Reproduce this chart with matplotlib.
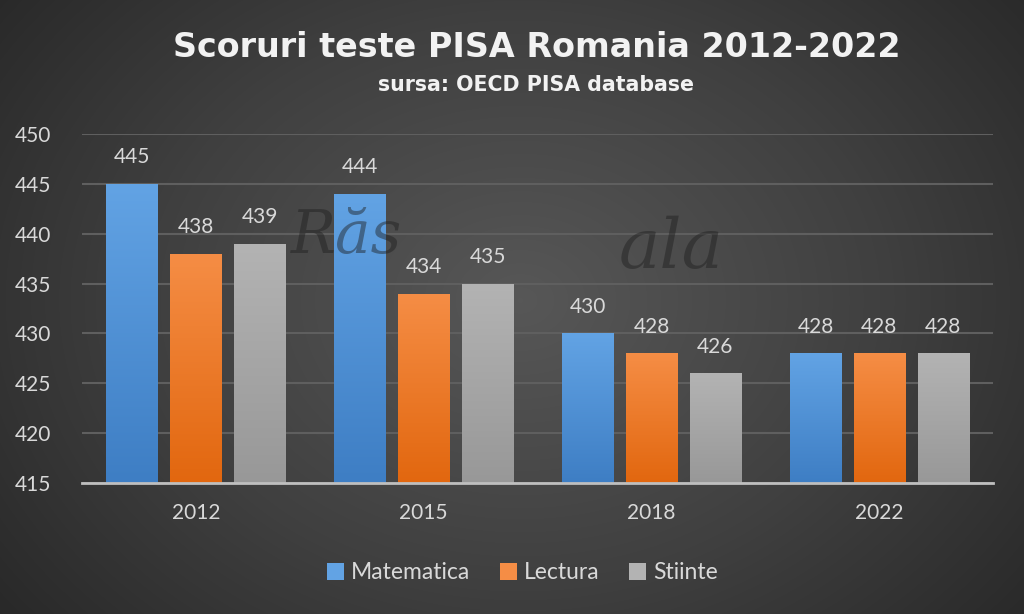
import numpy as np
import matplotlib
matplotlib.use('Agg')
import matplotlib.pyplot as plt
from matplotlib.colors import LinearSegmentedColormap
from matplotlib.patches import Patch

years = ['2012', '2015', '2018', '2022']
matematica = [445, 444, 430, 428]
lectura = [438, 434, 428, 428]
stiinte = [439, 435, 426, 428]
series_names = ['Matematica', 'Lectura', 'Stiinte']
yticks = [415, 420, 425, 430, 435, 440, 445, 450]

plt.rcParams['font.family'] = ['Lato', 'DejaVu Sans']

fig = plt.figure(figsize=(10.24, 6.14), dpi=100)

# radial background
bg = fig.add_axes([0, 0, 1, 1], zorder=-10)
yy, xx = np.mgrid[0:614, 0:1024]
r = np.sqrt(((xx - 520) / 720.0) ** 2 + ((yy - 300) / 560.0) ** 2)
r = np.clip(r, 0, 1)
bg_cmap = LinearSegmentedColormap.from_list('bg', ['#575757', '#404040', '#242424'])
bg.imshow(r, cmap=bg_cmap, aspect='auto', extent=[0, 1, 0, 1], vmin=0, vmax=1)
bg.axis('off')

ax = fig.add_axes([0.080, 0.213, 0.890, 0.569])
ax.set_facecolor('none')

x = np.arange(len(years))
width = 0.225
step = 0.28
series = [matematica, lectura, stiinte]
top_colors = ['#62a3e4', '#f58d45', '#b3b3b3']
bot_colors = ['#3e7ec4', '#e2670f', '#989898']

ymin, ymax = 415, 450
for i, (vals, tc, bc) in enumerate(zip(series, top_colors, bot_colors)):
    bars = ax.bar(x + (i - 1) * step, np.array(vals) - ymin, width, bottom=ymin,
                  color=tc, zorder=3, linewidth=0)
    cmap = LinearSegmentedColormap.from_list('g%d' % i, [bc, tc])
    for b, v in zip(bars, vals):
        x0, y0 = b.get_x(), b.get_y()
        grad = np.linspace(0, 1, 100).reshape(-1, 1)
        im = ax.imshow(grad, extent=[x0, x0 + b.get_width(), y0, y0 + b.get_height()],
                       origin='lower', aspect='auto', cmap=cmap, zorder=3.5)
        im.set_clip_path(b)
        ax.annotate(str(v), (b.get_x() + b.get_width() / 2, v), xytext=(0, 12),
                    textcoords='offset points', ha='center', va='bottom',
                    fontsize=15, color='#d9d9d9', zorder=5)

ax.set_xlim(-0.5, 3.5)
ax.set_ylim(ymin, ymax)
ax.set_yticks(yticks)
ax.set_xticks(x)
ax.set_xticklabels(years)
ax.tick_params(axis='both', length=0, labelsize=15, labelcolor='#d9d9d9')
ax.tick_params(axis='x', pad=14)
ax.tick_params(axis='y', pad=22)
ax.yaxis.grid(True, color='#5f5f5f', linewidth=1.5, zorder=0)
ax.set_axisbelow(True)
for s in ['top', 'right', 'left']:
    ax.spines[s].set_visible(False)
ax.spines['bottom'].set_color('#bfbfbf')
ax.spines['bottom'].set_linewidth(2)
ax.spines['bottom'].set_zorder(6)

# watermark
fig.text(0.338, 0.615, 'Răs', fontsize=43, family='DejaVu Serif', style='italic',
         color='#1e1e1e', alpha=0.45, ha='center', va='center', zorder=20)
fig.text(0.655, 0.595, 'ala', fontsize=50, family='DejaVu Serif', style='italic',
         color='#1e1e1e', alpha=0.45, ha='center', va='center', zorder=20)

fig.text(0.524, 0.923, 'Scoruri teste PISA Romania 2012-2022', ha='center', va='center',
         fontsize=24, fontweight='bold', color='#f2f2f2', family='DejaVu Sans')
fig.text(0.523, 0.862, 'sursa: OECD PISA database', ha='center', va='center',
         fontsize=14.8, fontweight='bold', color='#f2f2f2', family='DejaVu Sans')

handles = [Patch(facecolor=c, edgecolor='none') for c in top_colors]
leg = fig.legend(handles, series_names, loc='center', bbox_to_anchor=(0.51, 0.067),
                 ncol=3, frameon=False, fontsize=16.5, handlelength=0.75, handleheight=0.75,
                 handletextpad=0.3, columnspacing=1.3)
for t in leg.get_texts():
    t.set_color('#d9d9d9')

fig.savefig('out.png', dpi=100)
